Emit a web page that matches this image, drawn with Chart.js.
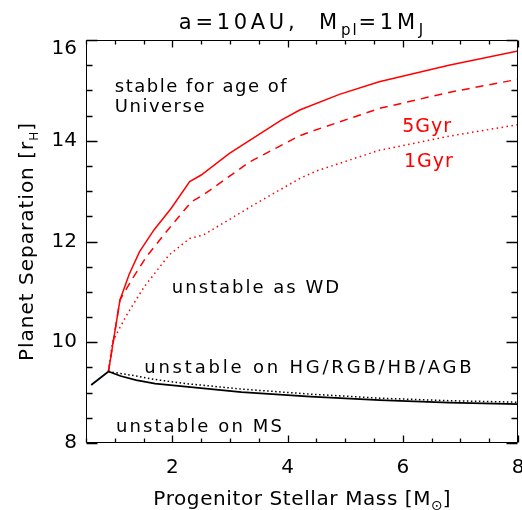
<!DOCTYPE html>
<html>
<head>
<meta charset="utf-8">
<script src="https://cdn.jsdelivr.net/npm/chart.js@4.4.0/dist/chart.umd.min.js"></script>
<style>
html, body { margin: 0; padding: 0; background: #fff; }
#marco { width: 522px; height: 510px; }
</style>
</head>
<body>
<div id="marco"><canvas id="grafica" width="522" height="510"></canvas></div>
<script>
// Separación de planetas vs masa estelar (a=10AU, Mpl=1MJ)

// Límite inestable en secuencia principal (negro sólido)
const masaMS = [0.59, 0.89, 1.1, 1.37, 1.7, 2.23, 3.2, 4.4, 5.6, 6.8, 8.0];
const sepMS = [9.15, 9.42, 9.33, 9.25, 9.18, 9.12, 9.01, 8.92, 8.85, 8.80, 8.77];

// Límite inestable en HG/RGB/HB/AGB (negro punteado)
const masaAGB = [0.89, 1.1, 1.37, 1.7, 2.23, 3.2, 4.4, 5.6, 6.8, 8.0];
const sepAGB = [9.42, 9.38, 9.33, 9.26, 9.18, 9.07, 8.97, 8.89, 8.84, 8.81];

// Estable para la edad del Universo (rojo sólido)
const masaUniverso = [0.89, 1.09, 1.25, 1.43, 1.68, 1.98, 2.30, 2.50, 2.99, 3.89, 4.21, 4.9, 5.59, 6.8, 8.0];
const sepUniverso = [9.42, 10.84, 11.35, 11.80, 12.23, 12.66, 13.19, 13.32, 13.75, 14.41, 14.61, 14.92, 15.17, 15.50, 15.78];

// Estable 5 Gyr (rojo discontinuo)
const masa5Gyr = [0.89, 1.09, 1.31, 1.55, 1.92, 2.33, 2.53, 3.34, 4.21, 4.50, 5.59, 6.8, 8.0];
const sep5Gyr = [9.42, 10.84, 11.27, 11.70, 12.23, 12.79, 12.92, 13.58, 14.10, 14.22, 14.64, 14.96, 15.22];

// Estable 1 Gyr (rojo punteado)
const masa1Gyr = [0.89, 0.96, 1.19, 1.51, 1.94, 2.30, 2.54, 3.46, 4.21, 4.50, 5.59, 6.8, 8.0];
const sep1Gyr = [9.42, 10.01, 10.51, 11.10, 11.73, 12.06, 12.13, 12.76, 13.25, 13.40, 13.81, 14.09, 14.32];

// Etiquetas de los ejes
const etiquetasX = [2, 4, 6, 8];
const etiquetasY = [8, 10, 12, 14, 16];

const fuente = '"DejaVu Sans", sans-serif';

// Textos sobre la gráfica (coordenadas de datos, línea base)
const anotaciones = [
    { texto: 'stable for age of', x: 1.0, y: 14.96, color: '#000', size: 18, esp: 1.5 },
    { texto: 'Universe', x: 1.0, y: 14.57, color: '#000', size: 18, esp: 1.5 },
    { texto: '5Gyr', x: 5.99, y: 14.18, color: '#ff0000', size: 19, esp: 1 },
    { texto: '1Gyr', x: 6.02, y: 13.48, color: '#ff0000', size: 19, esp: 1 },
    { texto: 'unstable as WD', x: 1.99, y: 10.98, color: '#000', size: 18, esp: 2 },
    { texto: 'unstable on HG/RGB/HB/AGB', x: 1.51, y: 9.38, color: '#000', size: 18, esp: 2.8 },
    { texto: 'unstable on MS', x: 1.02, y: 8.22, color: '#000', size: 18, esp: 2.1 }
];

function puntos(xs, ys) {
    return xs.map((x, i) => ({ x: x, y: ys[i] }));
}

// Dibuja trozos de texto con subíndices, devuelve el ancho
function textoCompuesto(ctx, trozos, x, y, medir) {
    let ancho = 0;
    trozos.forEach(t => {
        ctx.font = t.size + 'px ' + fuente;
        ctx.letterSpacing = (t.esp !== undefined ? t.esp : 1) + 'px';
        if (!medir) ctx.fillText(t.t, x + ancho, y + (t.dy || 0));
        ancho += ctx.measureText(t.t).width;
    });
    return ancho;
}

const marcasYTextos = {
    id: 'marcasYTextos',
    afterDraw(chart) {
        const ctx = chart.ctx;
        const area = chart.chartArea;
        const sx = chart.scales.x;
        const sy = chart.scales.y;
        const izq = Math.round(area.left) + 0.5, der = Math.round(area.right) - 0.5;
        const arr = Math.round(area.top) + 0.5, abj = Math.round(area.bottom) - 0.5;
        ctx.save();
        ctx.globalAlpha = 1;
        ctx.globalCompositeOperation = 'source-over';
        ctx.setLineDash([]);
        ctx.strokeStyle = 'rgb(0,0,0)';
        ctx.lineCap = 'butt';

        // marco
        ctx.lineWidth = 1;
        ctx.beginPath();
        ctx.rect(izq, arr, der - izq, abj - arr);
        ctx.stroke();

        // marcas hacia dentro en los cuatro lados
        ctx.lineWidth = 1.3;
        ctx.beginPath();
        sx.ticks.forEach(tk => {
            const px = Math.round(sx.getPixelForValue(tk.value)) + 0.5;
            const largo = etiquetasX.includes(tk.value) ? 7 : 4;
            ctx.moveTo(px, abj);
            ctx.lineTo(px, abj - largo);
            ctx.moveTo(px, arr);
            ctx.lineTo(px, arr + largo);
        });
        sy.ticks.forEach(tk => {
            const py = Math.round(sy.getPixelForValue(tk.value)) + 0.5;
            const largo = etiquetasY.includes(tk.value) ? 11 : 6;
            ctx.moveTo(izq, py);
            ctx.lineTo(izq + largo, py);
            ctx.moveTo(der, py);
            ctx.lineTo(der - largo, py);
        });
        ctx.stroke();

        // anotaciones
        ctx.textBaseline = 'alphabetic';
        ctx.textAlign = 'left';
        anotaciones.forEach(a => {
            ctx.fillStyle = a.color;
            ctx.font = a.size + 'px ' + fuente;
            ctx.letterSpacing = a.esp + 'px';
            ctx.fillText(a.texto, sx.getPixelForValue(a.x), sy.getPixelForValue(a.y));
        });

        const centroX = (area.left + area.right) / 2;
        // título
        ctx.fillStyle = '#000';
        const titulo = [
            { t: 'a=10AU,  M', size: 21, esp: 3.7 },
            { t: 'pl', size: 15, dy: 6, esp: 2 },
            { t: '=1M', size: 21, esp: 3.7 },
            { t: 'J', size: 15, dy: 6, esp: 2 }
        ];
        const w = textoCompuesto(ctx, titulo, 0, 0, true);
        textoCompuesto(ctx, titulo, centroX - w / 2, 29, false);

        // título eje x
        const tituloX = [
            { t: 'Progenitor Stellar Mass [M', size: 20, esp: 0.6 },
            { t: '\u2299', size: 14, dy: 5, esp: 0 },
            { t: ']', size: 20, esp: 0 }
        ];
        const wx = textoCompuesto(ctx, tituloX, 0, 0, true);
        textoCompuesto(ctx, tituloX, centroX - wx / 2, 505, false);

        // título eje y (rotado)
        const tituloY = [
            { t: 'Planet Separation [r', size: 20 },
            { t: 'H', size: 12, dy: 5 },
            { t: ']', size: 20 }
        ];
        const wy = textoCompuesto(ctx, tituloY, 0, 0, true);
        ctx.translate(33, (area.top + area.bottom) / 2);
        ctx.rotate(-Math.PI / 2);
        textoCompuesto(ctx, tituloY, -wy / 2, 0, false);
        ctx.restore();
    }
};

function sinRelleno(s) {
    s.paddingLeft = 0;
    s.paddingRight = 0;
    s.paddingTop = 0;
    s.paddingBottom = 0;
}

const ctx = document.getElementById('grafica').getContext('2d');
new Chart(ctx, {
    type: 'scatter',
    data: {
        datasets: [
            { data: puntos(masaMS, sepMS), borderColor: '#000', borderWidth: 1.8 },
            { data: puntos(masaAGB, sepAGB), borderColor: '#000', borderWidth: 1.5, borderDash: [1.5, 2.5] },
            { data: puntos(masaUniverso, sepUniverso), borderColor: '#ff0000', borderWidth: 1.5 },
            { data: puntos(masa5Gyr, sep5Gyr), borderColor: '#ff0000', borderWidth: 1.5, borderDash: [8, 6] },
            { data: puntos(masa1Gyr, sep1Gyr), borderColor: '#ff0000', borderWidth: 1.5, borderDash: [1.5, 3.5] }
        ]
    },
    options: {
        responsive: false,
        animation: false,
        showLine: true,
        elements: { point: { radius: 0 }, line: { tension: 0, fill: false } },
        layout: { padding: { left: 0, right: 4, top: 40, bottom: 0 } },
        plugins: { legend: { display: false }, tooltip: { enabled: false } },
        scales: {
            x: {
                type: 'linear', min: 0.5, max: 8,
                border: { display: false },
                grid: { display: false, drawTicks: false },
                ticks: {
                    stepSize: 0.5, autoSkip: false, maxRotation: 0, padding: 13, color: '#000',
                    font: { family: fuente, size: 20 },
                    callback: v => (etiquetasX.includes(v) ? String(v) : '')
                },
                afterFit: s => { s.height = 67; sinRelleno(s); }
            },
            y: {
                type: 'linear', min: 8, max: 16,
                border: { display: false },
                grid: { display: false, drawTicks: false },
                ticks: {
                    stepSize: 0.5, autoSkip: false, padding: 9, color: '#000',
                    font: { family: fuente, size: 20, lineHeight: 0.9 },
                    // la etiqueta superior va por debajo de su marca, como en el original
                    callback: v => (v === 16 ? ['', '16'] : (etiquetasY.includes(v) ? String(v) : ''))
                },
                afterFit: s => { s.width = 86; sinRelleno(s); }
            }
        }
    },
    plugins: [marcasYTextos]
});
</script>
</body>
</html>
